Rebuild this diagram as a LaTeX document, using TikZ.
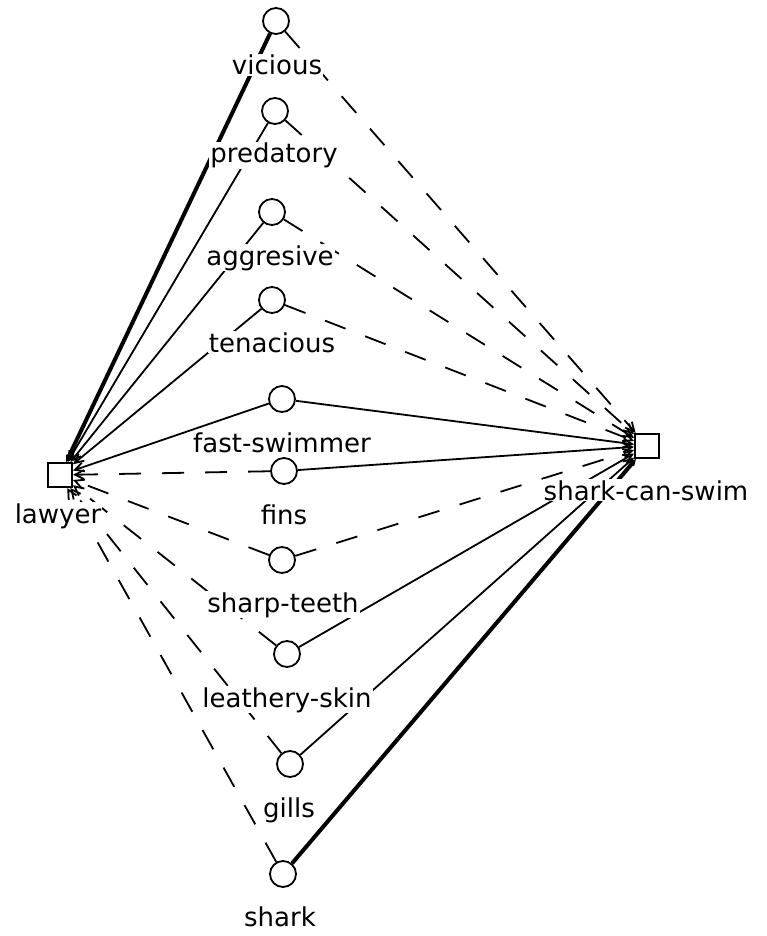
\documentclass[tikz,border=0pt]{standalone}
\usepackage{fontspec}
\setmainfont{DejaVu Sans}
\usetikzlibrary{arrows.meta}
\begin{document}
\begin{tikzpicture}[x=1pt,y=-1pt,
  unit/.style={circle,draw,line width=1.8pt,minimum size=26pt,inner sep=0pt},
  term/.style={rectangle,draw,line width=2pt,minimum size=24pt,inner sep=0pt},
  lab/.style={fill=white,inner sep=1pt,anchor=base,font=\fontsize{26}{26}\selectfont},
  link/.style={line width=1.8pt,-{Straight Barb[length=9pt,width=9pt]}},
  strong/.style={link,line width=4pt,-{Straight Barb[length=3pt,width=3pt]}},
  weak/.style={link,dash pattern=on 22pt off 21pt}]
\useasboundingbox (0,0) rectangle (767,936);
\node[term] (law) at (60,475) {};
\node[term] (scs) at (647,446) {};
\node[unit] (vic) at (276,21) {};
\node[unit] (pre) at (275,111) {};
\node[unit] (agg) at (272,212) {};
\node[unit] (ten) at (272,300) {};
\node[unit] (fast) at (282,399) {};
\node[unit] (fins) at (284,471) {};
\node[unit] (teeth) at (282,560) {};
\node[unit] (skin) at (287,654) {};
\node[unit] (gills) at (290,764) {};
\node[unit] (shark) at (283,874) {};
% connections to lawyer
\draw[strong] (vic) -- (law);
\draw[link] (pre) -- (law);
\draw[link] (agg) -- (law);
\draw[link] (ten) -- (law);
\draw[link] (fast) -- (law);
\draw[weak] (fins) -- (law);
\draw[weak] (teeth) -- (law);
\draw[weak] (skin) -- (law);
\draw[weak] (gills) -- (law);
\draw[weak] (shark) -- (law);
% connections to shark-can-swim
\draw[weak] (vic) -- (scs);
\draw[weak] (pre) -- (scs);
\draw[weak] (agg) -- (scs);
\draw[weak] (ten) -- (scs);
\draw[link] (fast) -- (scs);
\draw[link] (fins) -- (scs);
\draw[weak] (teeth) -- (scs);
\draw[link] (skin) -- (scs);
\draw[link] (gills) -- (scs);
\draw[strong] (shark) -- (scs);
% labels
\node[lab] (lvic) at (277,75) {vicious};
\node[lab] (lpre) at (274,163) {predatory};
\node[lab] (lagg) at (270,265) {aggresive};
\node[lab] (lten) at (272,352) {tenacious};
\node[lab] (lfast) at (282,452) {fast-swimmer};
\node[lab] (lfins) at (284,524) {fins};
\node[lab] (lteeth) at (283,612) {sharp-teeth};
\node[lab] (lskin) at (287,707) {leathery-skin};
\node[lab] (lgills) at (289,817) {gills};
\node[lab] (lshark) at (280,926) {shark};
\node[lab] (llaw) at (58,523) {lawyer};
\node[lab] (lscs) at (646,500) {shark-can-swim};
\end{tikzpicture}
\end{document}
